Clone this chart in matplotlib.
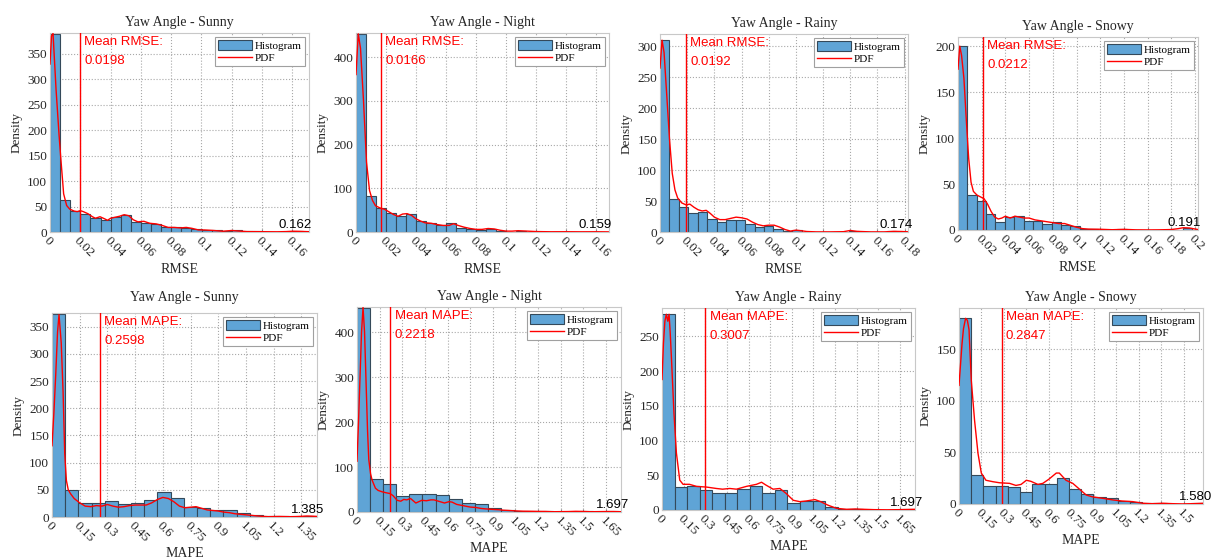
import numpy as np
import matplotlib
matplotlib.use('Agg')
import matplotlib.pyplot as plt
from matplotlib.ticker import MultipleLocator, FormatStrFormatter

# ---- data ----
titles = ['Yaw Angle - Sunny', 'Yaw Angle - Night', 'Yaw Angle - Rainy', 'Yaw Angle - Snowy',
          'Yaw Angle - Sunny', 'Yaw Angle - Night', 'Yaw Angle - Rainy', 'Yaw Angle - Snowy']
metrics = ['RMSE'] * 4 + ['MAPE'] * 4
mean_vals = ['0.0198', '0.0166', '0.0192', '0.0212', '0.2598', '0.2218', '0.3007', '0.2847']
max_vals = [0.162, 0.159, 0.174, 0.191, 1.385, 1.697, 1.697, 1.580]

bin_width = [0.00667, 0.00667, 0.00696, 0.0079, 0.0714, 0.0868, 0.087, 0.0816]

hist_sunny_rmse = [389, 62, 42, 35, 28, 23, 30, 33, 20, 18, 16, 10, 9, 8, 6, 4, 4, 1,
                   3, 2, 1, 0.5, 0.3, 0.3, 2]
hist_night_rmse = [453, 83, 54, 44, 36, 42, 25, 20, 15, 20, 10, 8, 5, 8, 2, 1, 3, 1,
                   0.5, 0.3, 0.3, 0.5, 0.3, 0.5]
hist_rainy_rmse = [311, 53, 40, 31, 33, 21, 16, 20, 20, 13, 8, 9, 5, 1, 3, 0.5, 0.3, 0.3,
                   0.3, 0.3, 2, 0.3, 0.3, 0.3, 1.5]
hist_snowy_rmse = [200, 38, 32, 17, 9, 14, 15, 10, 10, 7, 9, 5, 4, 1, 1, 0.5, 0.5, 1,
                   0.2, 0.2, 0.2, 0.2, 0.2, 0.2, 2.5]
hist_sunny_mape = [374, 49, 26, 26, 30, 24, 26, 32, 46, 35, 18, 17, 13, 12, 7, 4, 1, 1, 0.5, 2]
hist_night_mape = [453, 73, 62, 35, 41, 40, 37, 30, 19, 17, 8, 4.5, 3, 2.5, 1.5, 1, 1, 1.5, 1, 1.5]
hist_rainy_mape = [282, 33, 34, 29, 24, 25, 30, 34, 24, 29, 10, 13, 13, 4, 1, 1.5, 0.5, 0.3, 0.3, 1]
hist_snowy_mape = [180, 28, 17, 17, 16, 12, 19, 19, 25, 15, 10, 7, 5.5, 3, 2, 0.7, 0.7, 0.3, 0.3, 1]

pdf_x_sunny_rmse = [0, 0.001, 0.002, 0.004, 0.006, 0.007, 0.009, 0.011, 0.013, 0.016, 0.018,
                    0.02, 0.022, 0.025, 0.028, 0.03, 0.033, 0.036, 0.038, 0.04, 0.043, 0.046,
                    0.049, 0.052, 0.055, 0.058, 0.062, 0.066, 0.07, 0.074, 0.078, 0.082, 0.086,
                    0.09, 0.094, 0.098, 0.102, 0.108, 0.114, 0.12, 0.124, 0.13, 0.14, 0.15,
                    0.156, 0.16, 0.165, 0.171]
pdf_y_sunny_rmse = [330, 385, 390, 280, 190, 150, 75, 52, 45, 41, 40, 42, 40, 36, 30, 27, 30,
                    26, 23, 27, 29, 31, 34, 32, 24, 20, 21, 17, 16, 13, 9, 9, 8, 9, 7, 4, 4, 3,
                    1.5, 3, 2, 0.8, 0.6, 0.4, 0.8, 1.5, 1.2, 0.6]
pdf_x_night_rmse = [0, 0.0015, 0.003, 0.005, 0.007, 0.009, 0.011, 0.013, 0.016, 0.019, 0.022,
                    0.025, 0.028, 0.031, 0.034, 0.037, 0.04, 0.043, 0.046, 0.05, 0.054, 0.058,
                    0.062, 0.065, 0.068, 0.072, 0.076, 0.08, 0.084, 0.088, 0.092, 0.096, 0.1,
                    0.104, 0.108, 0.114, 0.12, 0.13, 0.14, 0.15, 0.16, 0.168]
pdf_y_night_rmse = [360, 453, 420, 300, 160, 95, 72, 60, 55, 52, 46, 40, 36, 41, 42, 38, 30,
                    25, 21, 20, 17, 15, 15, 19, 15, 11, 8, 6, 6, 8, 7, 4, 2, 2, 3, 2, 1, 0.5,
                    0.6, 0.4, 0.5, 0.3]
pdf_x_rainy_rmse = [0, 0.0015, 0.003, 0.005, 0.007, 0.009, 0.011, 0.013, 0.016, 0.019, 0.022,
                    0.025, 0.028, 0.031, 0.034, 0.037, 0.04, 0.044, 0.048, 0.052, 0.056, 0.06,
                    0.064, 0.068, 0.072, 0.076, 0.08, 0.084, 0.088, 0.092, 0.096, 0.1, 0.104,
                    0.108, 0.115, 0.125, 0.135, 0.14, 0.145, 0.155, 0.165, 0.172, 0.178, 0.1825]
pdf_y_rainy_rmse = [265, 310, 290, 220, 150, 95, 68, 55, 47, 44, 45, 40, 36, 34, 35, 30, 24,
                    20, 20, 22, 24, 23, 21, 16, 12, 10, 11, 11, 8, 4, 1.5, 3, 2, 0.8, 0.2, 0.2,
                    0.5, 2.5, 1, 0.2, 0.2, 1, 0.8, 0.3]
pdf_x_snowy_rmse = [0, 0.0015, 0.003, 0.005, 0.007, 0.009, 0.011, 0.013, 0.016, 0.019, 0.022,
                    0.025, 0.028, 0.031, 0.034, 0.037, 0.04, 0.044, 0.048, 0.052, 0.056, 0.06,
                    0.065, 0.07, 0.075, 0.08, 0.085, 0.09, 0.095, 0.1, 0.105, 0.11, 0.12, 0.13,
                    0.14, 0.15, 0.16, 0.17, 0.18, 0.186, 0.19, 0.195, 0.2025]
pdf_y_snowy_rmse = [175, 200, 190, 165, 120, 78, 52, 42, 38, 36, 34, 28, 20, 14, 12, 13, 15,
                    13, 15, 14, 13, 13, 11, 10, 9, 8, 7, 7, 5, 3, 1.5, 1, 0.8, 0.3, 0.7, 0.2,
                    0.1, 0.2, 0.5, 1.5, 2.5, 2.2, 0.5]
pdf_x_sunny_mape = [0, 0.01, 0.02, 0.03, 0.038, 0.05, 0.06, 0.069, 0.078, 0.088, 0.1, 0.12,
                    0.15, 0.18, 0.21, 0.24, 0.27, 0.3, 0.33, 0.36, 0.39, 0.42, 0.45, 0.48, 0.51,
                    0.54, 0.57, 0.6, 0.63, 0.66, 0.69, 0.72, 0.75, 0.78, 0.81, 0.84, 0.87, 0.9,
                    0.93, 0.96, 0.99, 1.02, 1.05, 1.08, 1.11, 1.14, 1.17, 1.2, 1.23, 1.26, 1.29,
                    1.32, 1.35, 1.38, 1.41, 1.435]
pdf_y_sunny_mape = [131, 190, 260, 340, 372, 320, 230, 116, 67, 50, 43, 34, 26, 20, 19, 21, 20,
                    23, 20, 18, 19, 21, 22, 22, 22, 26, 32, 36, 34, 28, 20, 17, 18, 19, 16, 13,
                    12, 11, 9, 8, 6, 5, 4, 3, 2, 1.2, 0.6, 0.8, 1, 0.8, 0.6, 0.8, 1.2, 1.8, 1.5, 1]
pdf_x_night_mape = [0, 0.01, 0.02, 0.03, 0.04, 0.05, 0.06, 0.07, 0.078, 0.09, 0.1, 0.122, 0.14,
                    0.166, 0.19, 0.22, 0.24, 0.266, 0.29, 0.31, 0.33, 0.355, 0.39, 0.41, 0.43,
                    0.46, 0.49, 0.51, 0.55, 0.58, 0.61, 0.63, 0.66, 0.69, 0.72, 0.75, 0.79,
                    0.82, 0.85, 0.89, 0.94, 0.97, 1.0, 1.05, 1.1, 1.15, 1.2, 1.25, 1.3, 1.35,
                    1.4, 1.45, 1.5, 1.55, 1.6, 1.65, 1.7, 1.75]
pdf_y_night_mape = [113, 200, 300, 400, 455, 400, 290, 180, 117, 85, 71, 53, 48, 45, 43, 41,
                    36, 26, 24, 28, 27, 30, 20, 23, 26, 25, 27, 27, 23, 20, 23, 22, 17, 15, 13,
                    11, 10, 8, 7, 6, 5, 4, 3.5, 2.5, 1.8, 1.6, 1.3, 1.2, 0.6, 0.8, 1, 1.5, 1.2,
                    0.6, 0.8, 1, 1, 0.6]
pdf_x_rainy_mape = [0, 0.01, 0.02, 0.03, 0.04, 0.049, 0.057, 0.065, 0.074, 0.083, 0.1, 0.123,
                    0.146, 0.19, 0.24, 0.31, 0.377, 0.42, 0.47, 0.516, 0.585, 0.655, 0.69,
                    0.72, 0.77, 0.817, 0.86, 0.91, 0.956, 1.0, 1.06, 1.1, 1.15, 1.21, 1.28,
                    1.34, 1.4, 1.47, 1.56, 1.65, 1.754]
pdf_y_rainy_mape = [188, 240, 272, 282, 272, 282, 255, 221, 180, 139, 82, 43, 37, 37, 34, 33,
                    31, 30, 31, 30, 34, 37, 40, 36, 30, 31, 24, 14, 12, 13, 15, 12, 7, 2.4, 1,
                    1.5, 1, 0.5, 0.3, 0.5, 1]
pdf_x_snowy_mape = [0, 0.01, 0.02, 0.03, 0.044, 0.056, 0.067, 0.082, 0.104, 0.127, 0.149, 0.18,
                    0.227, 0.27, 0.338, 0.38, 0.415, 0.45, 0.48, 0.527, 0.56, 0.6, 0.65, 0.67,
                    0.715, 0.76, 0.8, 0.85, 0.89, 0.96, 1.03, 1.09, 1.16, 1.23, 1.29, 1.36,
                    1.43, 1.49, 1.56, 1.63]
pdf_y_snowy_mape = [115, 135, 155, 170, 180, 178, 169, 120, 81, 49, 30, 23, 21.6, 20.6, 20, 18,
                    19, 23, 22, 19, 20, 24, 30, 30, 23, 20, 15, 8.7, 7, 5.5, 3.9, 2.9, 2.3, 0.7,
                    0.3, 0.7, 0.3, 0.1, 0.3, 0.7]

hists = [hist_sunny_rmse, hist_night_rmse, hist_rainy_rmse, hist_snowy_rmse,
         hist_sunny_mape, hist_night_mape, hist_rainy_mape, hist_snowy_mape]
pdf_xs = [pdf_x_sunny_rmse, pdf_x_night_rmse, pdf_x_rainy_rmse, pdf_x_snowy_rmse,
          pdf_x_sunny_mape, pdf_x_night_mape, pdf_x_rainy_mape, pdf_x_snowy_mape]
pdf_ys = [pdf_y_sunny_rmse, pdf_y_night_rmse, pdf_y_rainy_rmse, pdf_y_snowy_rmse,
          pdf_y_sunny_mape, pdf_y_night_mape, pdf_y_rainy_mape, pdf_y_snowy_mape]

# ---- layout (pixels: left, top, right, bottom) and axis limits ----
W, H = 1214, 560
boxes = [(50, 33, 309, 232), (356, 33, 609, 232), (660, 34, 908, 232), (958, 37, 1198, 230),
         (52, 313, 317, 517), (357, 307, 621, 512), (662, 308, 915, 510), (959, 308, 1203, 504)]
title_pad = [5, 5, 5, 5, 9, 5, 5, 5]
xmax = [0.171, 0.1685, 0.1825, 0.2025, 1.435, 1.75, 1.754, 1.63]
ymax = [391, 455, 320, 210, 375, 456, 291, 190]
xstep = [0.02] * 4 + [0.15] * 4
ystep = [50, 100, 50, 50, 50, 100, 50, 50]

serif = 'Liberation Serif'
sans = 'Liberation Sans'
bar_face = '#5fa4d6'
bar_edge = '#34495a'
text_col = '#262626'

fig = plt.figure(figsize=(W / 100, H / 100), dpi=100)

for i in range(8):
    l, t, r, b = boxes[i]
    ax = fig.add_axes([l / W, 1 - b / H, (r - l) / W, (b - t) / H])

    w = bin_width[i]
    heights = hists[i]
    lefts = [k * w for k in range(len(heights))]
    bars = ax.bar(lefts, heights, width=w, align='edge', color=bar_face,
                  edgecolor=bar_edge, linewidth=0.8, zorder=2)
    line, = ax.plot(pdf_xs[i], pdf_ys[i], color='red', lw=1.0, zorder=3)

    mean = float(mean_vals[i])
    ax.axvline(mean, color='red', lw=1.0, zorder=3)
    ax.annotate('Mean %s:\n%s' % (metrics[i], mean_vals[i]), xy=(mean, ymax[i]),
                xytext=(3, -2), textcoords='offset points', ha='left', va='top',
                color='red', fontsize=9.5, family=sans, linespacing=1.75, zorder=4)
    ax.annotate('%.3f' % max_vals[i], xy=(max_vals[i], 0), xytext=(0, 1),
                textcoords='offset points', ha='center', va='bottom',
                fontsize=9.5, family=sans, color='black', zorder=4)

    ax.set_xlim(0, xmax[i])
    ax.set_ylim(0, ymax[i])
    ax.xaxis.set_major_locator(MultipleLocator(xstep[i]))
    ax.yaxis.set_major_locator(MultipleLocator(ystep[i]))
    ax.xaxis.set_major_formatter(FormatStrFormatter('%g'))
    ax.yaxis.set_major_formatter(FormatStrFormatter('%g'))

    ax.grid(True, linestyle=':', color='#a8a8a8', linewidth=0.8, zorder=0)
    ax.set_axisbelow(True)
    for s in ax.spines.values():
        s.set_color('#c8c8c8')
        s.set_linewidth(0.8)
    ax.tick_params(direction='in', length=2, color='#888888', labelsize=9.5,
                   labelcolor=text_col, pad=2)
    for lab in ax.get_xticklabels():
        lab.set_rotation(-45)
        lab.set_ha('left')
        lab.set_va('top')
        lab.set_rotation_mode('anchor')
        lab.set_family(serif)
    for lab in ax.get_yticklabels():
        lab.set_family(serif)

    ax.set_title(titles[i], fontsize=10, family=serif, pad=title_pad[i], color=text_col)
    ax.set_xlabel(metrics[i], fontsize=10, family=serif, color=text_col, labelpad=2)
    ax.set_ylabel('Density', fontsize=9.5, family=serif, color=text_col, labelpad=3)

    leg = ax.legend([bars, line], ['Histogram', 'PDF'], loc='upper right',
                    prop={'family': serif, 'size': 8},
                    fancybox=False, framealpha=1, edgecolor='#a0a0a0',
                    borderpad=0.3, labelspacing=0.1, handlelength=3.0,
                    handleheight=1.0, handletextpad=0.3, borderaxespad=0.35)
    leg.get_frame().set_linewidth(0.8)

fig.savefig('out.png', dpi=100)
